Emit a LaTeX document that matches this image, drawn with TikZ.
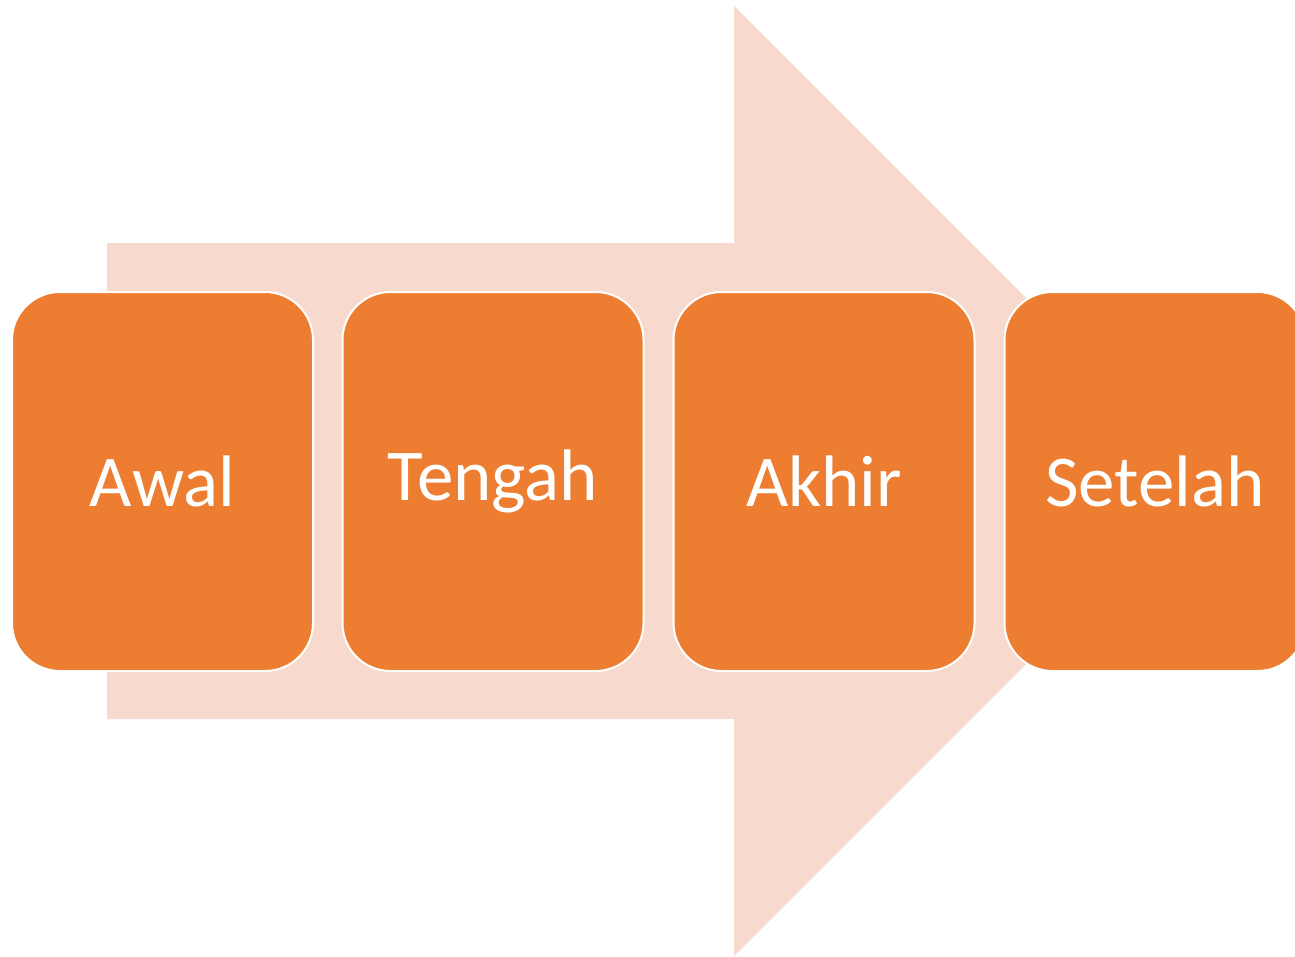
\documentclass[tikz,border=0pt]{standalone}
\usepackage{fontspec}
\setmainfont{Carlito}
\definecolor{arrowfill}{HTML}{F7D9CE}
\definecolor{boxfill}{HTML}{ED7D31}
\tikzset{
  stagebox/.style={draw=white, line width=2pt, fill=boxfill, rounded corners=48pt,
    minimum width=301pt, minimum height=379pt, inner sep=0pt,
    text=white, font=\fontsize{73}{80}\selectfont}
}
\begin{document}
\begin{tikzpicture}[x=1pt,y=-1pt]
\useasboundingbox (0,0) rectangle (1295,956);
\clip (0,0) rectangle (1295,956);
\fill[arrowfill] (107,243) -- (734,243) -- (734,6) -- (1209,481) -- (734,956) -- (734,719) -- (107,719) -- cycle;
\node[stagebox] (awal) at (162.5,481.5) {Awal};
\node[stagebox] (tengah) at (493,481.5) {Tengah};
\node[stagebox] (akhir) at (824,481.5) {Akhir};
\node[stagebox] (setelah) at (1155,481.5) {Setelah};
\end{tikzpicture}
\end{document}
